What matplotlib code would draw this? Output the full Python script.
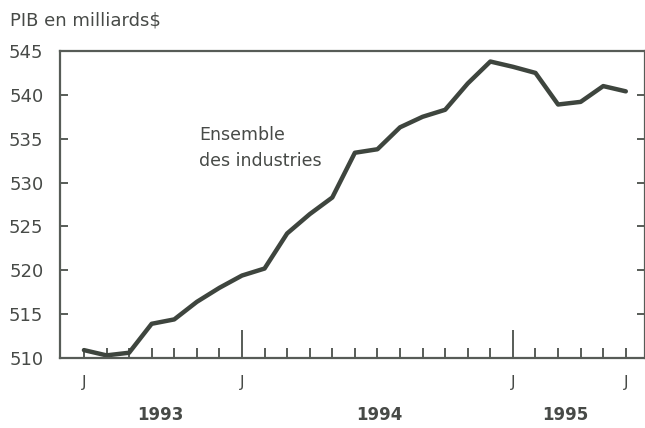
import matplotlib.pyplot as plt
import numpy as np
from matplotlib.transforms import blended_transform_factory

plt.rcParams['font.family'] = ['DejaVu Sans']

# monthly GDP, June 1993 -> June 1995
mois = ["J", "J", "A", "S", "O", "N", "D",
        "J", "F", "M", "A", "M", "J", "J", "A", "S", "O", "N", "D",
        "J", "F", "M", "A", "M", "J"]
pib = [510.9, 510.3, 510.6, 513.9, 514.4, 516.4, 518.0,
       519.4, 520.2, 524.2, 526.4, 528.3, 533.4, 533.8, 536.3, 537.5, 538.3, 541.3, 543.8,
       543.2, 542.5, 538.9, 539.2, 541.0, 540.4]
annees = ["1993", "1994", "1995"]
annees_pos = [3.4, 13.1, 21.3]
j_labels = [0, 7, 19, 24]
janvier = [7, 19]

gris = "#575c57"
trait = "#3e453e"
texte = "#474a47"

x = np.arange(len(pib))

fig = plt.figure(figsize=(6.45, 4.28), dpi=100)
ax = fig.add_axes([60 / 645, 70 / 428, 585 / 645, 307 / 428])

ax.plot(x, pib, color=trait, lw=3.2, solid_joinstyle="round", solid_capstyle="round")

ax.set_ylim(510, 545)
ax.set_xlim(-1.06, 24.85)

for s in ax.spines.values():
    s.set_color(gris)
    s.set_linewidth(1.6)

ax.set_yticks(np.arange(510, 546, 5))
ax.tick_params(axis="y", direction="in", length=6, width=1.4, color=gris,
               labelsize=13, labelcolor=texte, right=True, pad=12)

ax.set_xticks(janvier)
ax.set_xticklabels([])
ax.set_xticks(x, minor=True)
ax.tick_params(axis="x", which="major", direction="in", length=20, width=1.4, color=gris)
ax.tick_params(axis="x", which="minor", direction="in", length=7, width=1.4, color=gris)

tr = blended_transform_factory(ax.transData, ax.transAxes)
for i in j_labels:
    ax.text(i, -0.08, mois[i], transform=tr, ha="center", va="center",
            fontsize=11.5, color=texte)
for a, p in zip(annees, annees_pos):
    ax.text(p, -0.185, a, transform=tr, ha="center", va="center",
            fontsize=12, fontweight="bold", color=texte)

ax.text(5.1, 536.4, "Ensemble\ndes industries", ha="left", va="top",
        fontsize=12.5, color=texte, linespacing=1.55)

fig.text(10 / 645, 1 - 20 / 428, "PIB en milliards$", ha="left", va="center",
         fontsize=13, color=texte)

fig.savefig("out.png", dpi=100)
